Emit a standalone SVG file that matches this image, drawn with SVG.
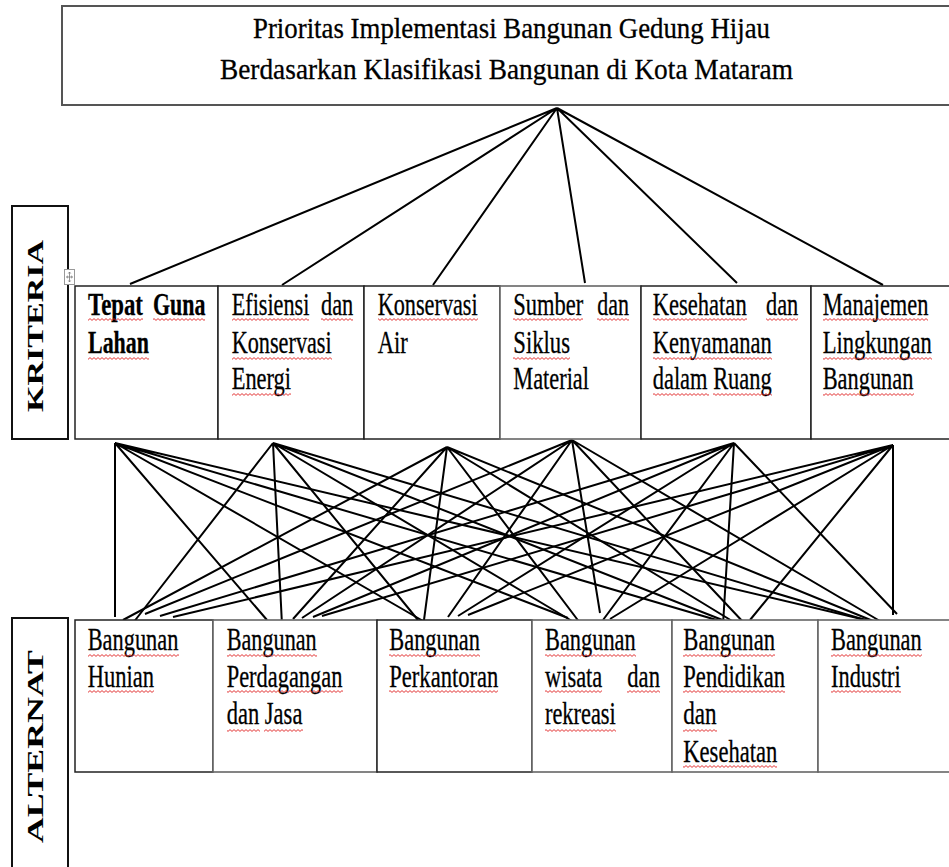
<svg xmlns="http://www.w3.org/2000/svg" width="949" height="867" viewBox="0 0 949 867">
<style>
.t{font-family:"Liberation Serif","Times New Roman",serif;font-size:31px;fill:#000;stroke:#000;stroke-width:0.3}
.b{font-weight:bold}
.tt{font-size:30px}
.lab{font-family:"Liberation Serif","Times New Roman",serif;font-size:23px;font-weight:bold;fill:#000}
.cell{fill:#fff;stroke:#222;stroke-width:1.5}
.cellg{fill:#fff;stroke:#666;stroke-width:1.6}
.box{fill:#fff;stroke:#111;stroke-width:2}
.sq{fill:url(#sq)}
#connectors path{fill:none;stroke:#000;stroke-width:2}
</style>
<defs>
<pattern id="sq" width="4" height="3" patternUnits="userSpaceOnUse">
<path d="M0,2.4 L2,0.6 L4,2.4" fill="none" stroke="#e02020" stroke-width="0.9"/>
</pattern>
</defs>
<rect width="949" height="867" fill="#fff"/>

<g id="title">
<rect x="62" y="6" width="892" height="99" fill="#fff" stroke="#555" stroke-width="2"/>
<text class="t tt" transform="translate(253,38) scale(0.89,1)" textLength="580.9" lengthAdjust="spacingAndGlyphs">Prioritas Implementasi Bangunan Gedung Hijau</text>
<text class="t tt" transform="translate(220,79) scale(0.89,1)" textLength="643.8" lengthAdjust="spacingAndGlyphs">Berdasarkan Klasifikasi Bangunan di Kota Mataram</text>
</g>

<g id="connectors">
<path d="M557,108 L130,284 M557,108 L282,285 M557,108 L433,285 M557,108 L585,283 M557,108 L737,283 M557,108 L883,285"/>
<path d="M115,443 L115,617 M115,443 L267,620 M115,443 L430,625 M115,443 L568,618 M115,443 L720,621 M115,443 L870,621"/>
<path d="M273,443 L133,623 M273,443 L282,625 M273,443 L418,620 M273,443 L572,621 M273,443 L730,623 M273,443 L872,622"/>
<path d="M447,447 L123,620 M447,447 L293,619 M447,447 L424,620 M447,447 L580,623 M447,447 L737,624 M447,447 L878,623"/>
<path d="M572,440 L145,614 M572,440 L302,618 M572,440 L448,617 M572,440 L600,613 M572,440 L745,624 M572,440 L885,624"/>
<path d="M734,443 L160,616 M734,443 L313,617 M734,443 L458,616 M734,443 L603,620 M734,443 L723,625 M734,443 L897,614"/>
<path d="M893,445 L173,617 M893,445 L322,616 M893,445 L468,615 M893,445 L610,619 M893,445 L750,620 M893,445 L893,615"/>
</g>

<g id="label-kriteria">
<rect class="box" x="12" y="206" width="56" height="233"/>
<text class="lab" transform="translate(43,412) rotate(-90)" textLength="172" lengthAdjust="spacingAndGlyphs">KRITERIA</text>
</g>

<g id="move-handle">
<rect x="64.5" y="269.5" width="10" height="15" fill="#fff" stroke="#999" stroke-width="1"/>
<path d="M69.5,272 L69.5,282 M66.5,277 L72.5,277 M68.3,273.5 L69.5,272 L70.7,273.5 M68.3,280.5 L69.5,282 L70.7,280.5 M68,275.8 L66.5,277 L68,278.2 M71,275.8 L72.5,277 L71,278.2" fill="none" stroke="#777" stroke-width="0.8"/>
</g>

<g id="k1">
<rect class="cell" x="75" y="286" width="143" height="153"/>
<text class="t b" transform="translate(88,315) scale(0.75,1)" textLength="73.3" lengthAdjust="spacingAndGlyphs">Tepat</text>
<text class="t b" transform="translate(153,315) scale(0.75,1)" textLength="70" lengthAdjust="spacingAndGlyphs">Guna</text>
<text class="t b" transform="translate(88,352.5) scale(0.75,1)" textLength="81.3" lengthAdjust="spacingAndGlyphs">Lahan</text>
<rect class="sq" x="88" y="318" width="55" height="3"/>
<rect class="sq" x="153" y="318" width="52" height="3"/>
<rect class="sq" x="88" y="357" width="61" height="3"/>
</g>

<g id="k2">
<rect class="cell" x="218" y="286" width="146" height="153"/>
<text class="t" transform="translate(231.7,315) scale(0.75,1)" textLength="103.5" lengthAdjust="spacingAndGlyphs">Efisiensi</text>
<text class="t" transform="translate(321,315) scale(0.75,1)" textLength="43.1" lengthAdjust="spacingAndGlyphs">dan</text>
<text class="t" transform="translate(231.7,352.5) scale(0.75,1)" textLength="133.3" lengthAdjust="spacingAndGlyphs">Konservasi</text>
<text class="t" transform="translate(231.7,389) scale(0.75,1)" textLength="79.1" lengthAdjust="spacingAndGlyphs">Energi</text>
<rect class="sq" x="232" y="318" width="77" height="3"/>
<rect class="sq" x="321" y="318" width="32" height="3"/>
<rect class="sq" x="232" y="357" width="100" height="3"/>
<rect class="sq" x="232" y="393" width="59" height="3"/>
</g>

<g id="k3">
<rect class="cell" x="364" y="286" width="136" height="153"/>
<text class="t" transform="translate(377.7,315) scale(0.75,1)" textLength="133.3" lengthAdjust="spacingAndGlyphs">Konservasi</text>
<text class="t" transform="translate(377.7,352.5) scale(0.75,1)" textLength="40" lengthAdjust="spacingAndGlyphs">Air</text>
<rect class="sq" x="378" y="318" width="100" height="3"/>
</g>

<g id="k4">
<rect class="cellg" x="500" y="286" width="141" height="153"/>
<text class="t" transform="translate(513.3,315) scale(0.75,1)" textLength="93.3" lengthAdjust="spacingAndGlyphs">Sumber</text>
<text class="t" transform="translate(597.3,315) scale(0.75,1)" textLength="42.3" lengthAdjust="spacingAndGlyphs">dan</text>
<text class="t" transform="translate(513.3,352.5) scale(0.75,1)" textLength="75.6" lengthAdjust="spacingAndGlyphs">Siklus</text>
<text class="t" transform="translate(513.3,389) scale(0.75,1)" textLength="100.9" lengthAdjust="spacingAndGlyphs">Material</text>
<rect class="sq" x="513" y="318" width="70" height="3"/>
<rect class="sq" x="597" y="318" width="32" height="3"/>
<rect class="sq" x="513" y="357" width="57" height="3"/>
</g>

<g id="k5">
<rect class="cell" x="641" y="286" width="170" height="153"/>
<text class="t" transform="translate(652.7,315) scale(0.75,1)" textLength="125.3" lengthAdjust="spacingAndGlyphs">Kesehatan</text>
<text class="t" transform="translate(766,315) scale(0.75,1)" textLength="43.1" lengthAdjust="spacingAndGlyphs">dan</text>
<text class="t" transform="translate(652.7,352.5) scale(0.75,1)" textLength="158.7" lengthAdjust="spacingAndGlyphs">Kenyamanan</text>
<text class="t" transform="translate(652.7,389) scale(0.75,1)" textLength="158.7" lengthAdjust="spacingAndGlyphs">dalam Ruang</text>
<rect class="sq" x="653" y="318" width="94" height="3"/>
<rect class="sq" x="766" y="318" width="32" height="3"/>
<rect class="sq" x="653" y="357" width="119" height="3"/>
<rect class="sq" x="653" y="393" width="56" height="3"/>
<rect class="sq" x="713" y="393" width="59" height="3"/>
</g>

<g id="k6">
<rect class="cell" x="811" y="286" width="142" height="153"/>
<text class="t" transform="translate(822.7,315) scale(0.75,1)" textLength="140.9" lengthAdjust="spacingAndGlyphs">Manajemen</text>
<text class="t" transform="translate(822.7,352.5) scale(0.75,1)" textLength="145.3" lengthAdjust="spacingAndGlyphs">Lingkungan</text>
<text class="t" transform="translate(822.7,389) scale(0.75,1)" textLength="120.9" lengthAdjust="spacingAndGlyphs">Bangunan</text>
<rect class="sq" x="823" y="318" width="105" height="3"/>
<rect class="sq" x="823" y="357" width="109" height="3"/>
<rect class="sq" x="823" y="393" width="91" height="3"/>
</g>

<g id="label-alternatif">
<rect class="box" x="12" y="618" width="56" height="260"/>
<text class="lab" transform="translate(43,843) rotate(-90)" textLength="193" lengthAdjust="spacingAndGlyphs">ALTERNAT</text>
</g>

<g id="a1">
<rect class="cell" x="75" y="620" width="138" height="152"/>
<text class="t" transform="translate(87.7,650) scale(0.75,1)" textLength="120.9" lengthAdjust="spacingAndGlyphs">Bangunan</text>
<text class="t" transform="translate(87.7,687) scale(0.75,1)" textLength="88.4" lengthAdjust="spacingAndGlyphs">Hunian</text>
<rect class="sq" x="88" y="654" width="91" height="3"/>
<rect class="sq" x="88" y="690" width="66" height="3"/>
</g>

<g id="a2">
<rect class="cellg" x="213" y="620" width="164" height="152"/>
<text class="t" transform="translate(226.7,650) scale(0.75,1)" textLength="120" lengthAdjust="spacingAndGlyphs">Bangunan</text>
<text class="t" transform="translate(226.7,687) scale(0.75,1)" textLength="154.3" lengthAdjust="spacingAndGlyphs">Perdagangan</text>
<text class="t" transform="translate(226.7,724) scale(0.75,1)" textLength="100.9" lengthAdjust="spacingAndGlyphs">dan Jasa</text>
<rect class="sq" x="227" y="654" width="90" height="3"/>
<rect class="sq" x="227" y="690" width="116" height="3"/>
<rect class="sq" x="227" y="729" width="33" height="3"/>
<rect class="sq" x="264" y="729" width="39" height="3"/>
</g>

<g id="a3">
<rect class="cell" x="377" y="620" width="155" height="152"/>
<text class="t" transform="translate(389.3,650) scale(0.75,1)" textLength="120.9" lengthAdjust="spacingAndGlyphs">Bangunan</text>
<text class="t" transform="translate(389.3,687) scale(0.75,1)" textLength="145.3" lengthAdjust="spacingAndGlyphs">Perkantoran</text>
<rect class="sq" x="389" y="654" width="91" height="3"/>
<rect class="sq" x="389" y="690" width="109" height="3"/>
</g>

<g id="a4">
<rect class="cellg" x="532" y="620" width="140" height="152"/>
<text class="t" transform="translate(545,650) scale(0.75,1)" textLength="120.9" lengthAdjust="spacingAndGlyphs">Bangunan</text>
<text class="t" transform="translate(545,687) scale(0.75,1)" textLength="76.4" lengthAdjust="spacingAndGlyphs">wisata</text>
<text class="t" transform="translate(627.3,687) scale(0.75,1)" textLength="43.6" lengthAdjust="spacingAndGlyphs">dan</text>
<text class="t" transform="translate(545,724) scale(0.75,1)" textLength="94.3" lengthAdjust="spacingAndGlyphs">rekreasi</text>
<rect class="sq" x="545" y="654" width="91" height="3"/>
<rect class="sq" x="545" y="690" width="57" height="3"/>
<rect class="sq" x="627" y="690" width="33" height="3"/>
<rect class="sq" x="545" y="729" width="71" height="3"/>
</g>

<g id="a5">
<rect class="cellg" x="672" y="620" width="146" height="152"/>
<text class="t" transform="translate(683.3,650) scale(0.75,1)" textLength="122.3" lengthAdjust="spacingAndGlyphs">Bangunan</text>
<text class="t" transform="translate(683.3,687) scale(0.75,1)" textLength="135.6" lengthAdjust="spacingAndGlyphs">Pendidikan</text>
<text class="t" transform="translate(683.3,724) scale(0.75,1)" textLength="44.5" lengthAdjust="spacingAndGlyphs">dan</text>
<text class="t" transform="translate(683.3,761.5) scale(0.75,1)" textLength="125.3" lengthAdjust="spacingAndGlyphs">Kesehatan</text>
<rect class="sq" x="683" y="654" width="92" height="3"/>
<rect class="sq" x="683" y="690" width="102" height="3"/>
<rect class="sq" x="683" y="729" width="34" height="3"/>
<rect class="sq" x="683" y="765" width="94" height="3"/>
</g>

<g id="a6">
<rect class="cellg" x="818" y="620" width="135" height="152"/>
<text class="t" transform="translate(831,650) scale(0.75,1)" textLength="120.9" lengthAdjust="spacingAndGlyphs">Bangunan</text>
<text class="t" transform="translate(831,687) scale(0.75,1)" textLength="92.9" lengthAdjust="spacingAndGlyphs">Industri</text>
<rect class="sq" x="831" y="654" width="91" height="3"/>
<rect class="sq" x="831" y="690" width="70" height="3"/>
</g>
</svg>
